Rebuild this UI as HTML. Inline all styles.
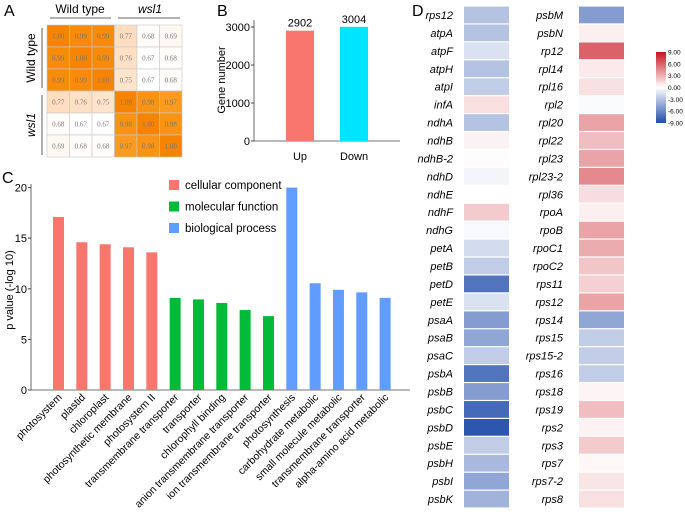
<!DOCTYPE html>
<html><head><meta charset="utf-8"><style>
body{margin:0;background:#fff;}
svg{display:block;font-family:"Liberation Sans",Arial,sans-serif;}
</style></head><body>
<svg id="s" width="685" height="514" viewBox="0 0 685 514">
<text x="4" y="16" font-size="16">A</text>
<text x="217" y="16" font-size="16">B</text>
<text x="2" y="183" font-size="16">C</text>
<text x="412" y="16" font-size="16">D</text>
<g id="gA"></g>
<g id="gB"></g>
<g id="gC"></g>
<g id="gD"></g>
</svg>
<script>
const NS="http://www.w3.org/2000/svg";
function mk(p,t,a,txt){const e=document.createElementNS(NS,t);for(const k in a)e.setAttribute(k,a[k]);if(txt!==undefined)e.textContent=txt;p.appendChild(e);return e;}

// ---- Panel A data
const corrRows=[[1.00,0.99,0.99,0.77,0.68,0.69],[0.99,1.00,0.99,0.76,0.67,0.68],[0.99,0.99,1.00,0.75,0.67,0.68],[0.77,0.76,0.75,1.00,0.98,0.97],[0.68,0.67,0.67,0.98,1.00,0.98],[0.69,0.68,0.68,0.97,0.98,1.00]];
// ---- Panel B data
const bCats=["Up","Down"];
const bVals=[2902,3004];
const bTicks=[0,1000,2000,3000];
// ---- Panel C data
const cCats=["photosystem","plastid","chloroplast","photosynthetic membrane","photosystem II","transmembrane transporter","transporter","chlorophyll binding","anion transmembrane transporter","ion transmembrane transporter","photosynthesis","carbohydrate metabolic","small molecule metabolic","transmembrane transporter","alpha-amino acid metabolic"];
const cVals=[17.1,14.6,14.4,14.1,13.6,9.1,8.95,8.6,7.9,7.3,20.0,10.55,9.9,9.65,9.1];
const cGroups=[0,0,0,0,0,1,1,1,1,1,2,2,2,2,2];
const cGroupNames=["cellular component","molecular function","biological process"];
const cTicks=[0,5,10,15,20];
// ---- Panel D data
const dGenesL=["rps12","atpA","atpF","atpH","atpI","infA","ndhA","ndhB","ndhB-2","ndhD","ndhE","ndhF","ndhG","petA","petB","petD","petE","psaA","psaB","psaC","psbA","psbB","psbC","psbD","psbE","psbH","psbI","psbK"];
const dValsL=[-3,-3,-1.5,-3,-2.5,1.2,-3,0.5,0.1,-0.5,0,2,-0.3,-1.8,-2.5,-7,-1.5,-5,-4.5,-2.5,-7,-5,-7.5,-8.5,-2.5,-3.5,-4.5,-3.8];
const dGenesR=["psbM","psbN","rp12","rpl14","rpl16","rpl2","rpl20","rpl22","rpl23","rpl23-2","rpl36","rpoA","rpoB","rpoC1","rpoC2","rps11","rps12","rps14","rps15","rps15-2","rps16","rps18","rps19","rps2","rps3","rps7","rps7-2","rps8"];
const dValsR=[-5,0.6,6,0.8,1.2,-0.2,3.5,2.5,3.5,4.5,1.3,0.6,3.5,3.2,2.2,1.8,3.5,-4.5,-2.5,-2.5,-2.5,0.4,2.5,0.5,2,0.3,1,1.2];
const dTicks=[9,6,3,0,-3,-6,-9];

// ===== Panel A
const gA=document.getElementById('gA');
function corrColor(v){
  if(v>=0.9){const t=(1-v)/0.03;return `rgb(${Math.round(247+t*3)},${Math.round(132+t*22)},${Math.round(0+t*30)})`;}
  const t=Math.max(0,Math.min(1,(v-0.67)/0.1));
  return `rgb(255,${Math.round(255-t*34)},${Math.round(255-t*64)})`;
}
const ax0=47,ay0=25,cw=22.5,ch=22;
corrRows.forEach((row,i)=>row.forEach((v,j)=>{
  const r=mk(gA,'rect',{x:ax0+j*cw,y:ay0+i*ch,width:cw,height:ch,fill:corrColor(v),stroke:'#c8c8c8','stroke-width':0.6});
  
  
  const t=mk(gA,'text',{x:ax0+j*cw+cw/2,y:ay0+i*ch+ch/2+2.5,'font-size':7,'text-anchor':'middle',fill:'#777','font-family':'"Liberation Serif",serif'},v.toFixed(2));
  
  
}));
[[80,"Wild type",50,111,"normal"],[150,"wsl1",118,180,"italic"]].forEach(d=>{
  const t=mk(gA,'text',{x:d[0],y:13,'font-size':12,'text-anchor':'middle','font-style':d[4]},d[1]);
  
  
  const l=mk(gA,'line',{x1:d[2],x2:d[3],y1:18,y2:18,stroke:'#333','stroke-width':0.8});
  
  
  const yc=d[4]=="normal"?58:125;
  const t2=mk(gA,'text',{x:0,y:0,'font-size':12,'text-anchor':'middle','font-style':d[4],transform:`translate(35,${yc}) rotate(-90)`},d[1]);
  
  
  const l2=mk(gA,'line',{x1:42,x2:42,y1:yc-30,y2:yc+30,stroke:'#333','stroke-width':0.8});
  
  
});

// ===== Panel B
const gB=document.getElementById('gB');
const bX0=254,bY0=141,bScale=38/1000;
const by=v=>bY0-v*bScale;
mk(gB,'line',{x1:bX0,x2:bX0,y1:20,y2:bY0,stroke:'#444','stroke-width':0.8});
mk(gB,'line',{x1:bX0,x2:400,y1:bY0,y2:bY0,stroke:'#444','stroke-width':0.8});
bTicks.forEach(v=>{
  const l=mk(gB,'line',{x1:bX0-3,x2:bX0,y1:by(v),y2:by(v),stroke:'#444'});
  
  
  const t=mk(gB,'text',{x:bX0-4,y:by(v)+4,'font-size':11,'text-anchor':'end'},v);
  
  
});
const bCols=["#f8766d","#00e5ff"];
bVals.forEach((v,i)=>{
  const cx=300+i*54;
  const r=mk(gB,'rect',{x:cx-14,y:by(v),width:28,height:bY0-by(v),fill:bCols[i]});
  
  
  const t=mk(gB,'text',{x:cx,y:by(v)-4,'font-size':11,'text-anchor':'middle'},v);
  
  
  const t2=mk(gB,'text',{x:cx,y:160,'font-size':11,'text-anchor':'middle'},bCats[i]);
  
  
});
const byt=mk(gB,'text',{x:0,y:0,'font-size':11,'text-anchor':'middle',transform:'translate(225,80) rotate(-90)'},"Gene number");



// ===== Panel C
const gC=document.getElementById('gC');
const cX0=31,cY0=390,cS=50.6/5;
const cy=v=>cY0-v*cS;
const cColors=["#f8766d","#00ba38","#619cff"];
mk(gC,'line',{x1:cX0,x2:cX0,y1:184,y2:cY0,stroke:'#444','stroke-width':0.8});
mk(gC,'line',{x1:cX0,x2:410,y1:cY0,y2:cY0,stroke:'#444','stroke-width':0.8});
cTicks.forEach(v=>{
  const l=mk(gC,'line',{x1:cX0-3,x2:cX0,y1:cy(v),y2:cy(v),stroke:'#444'});
  
  
  const t=mk(gC,'text',{x:cX0-4,y:cy(v)+4,'font-size':11,'text-anchor':'end'},v);
  
  
});
cVals.forEach((v,i)=>{
  const cx=58.5+i*23.33;
  const r=mk(gC,'rect',{x:cx-5.5,y:cy(v),width:11,height:cY0-cy(v),fill:cColors[cGroups[i]]});
  
  
  const t=mk(gC,'text',{x:0,y:0,'font-size':10.5,'text-anchor':'end',transform:`translate(${cx+4},${cY0+8}) rotate(-45)`},cCats[i]);
  
  
});
const cyt=mk(gC,'text',{x:0,y:0,'font-size':11,'text-anchor':'middle',transform:'translate(13,290) rotate(-90)'},"p value (-log 10)");


cGroupNames.forEach((n,i)=>{
  const y=185+i*21.5;
  const r=mk(gC,'rect',{x:169,y:y-5,width:10,height:10,fill:cColors[i]});
  
  
  const t=mk(gC,'text',{x:185,y:y+4,'font-size':11.5},n);
  
  
});

// ===== Panel D
const gD=document.getElementById('gD');
function heat(v){
  const t=Math.min(1,Math.abs(v)/9);
  if(v>=0) return `rgb(${Math.round(255-55*t)},${Math.round(255-235*t)},${Math.round(255-225*t)})`;
  return `rgb(${Math.round(255-222*t)},${Math.round(255-179*t)},${Math.round(255-85*t)})`;
}
const dY0=6,dRH=17.93;
[[dGenesL,dValsL,464,453],[dGenesR,dValsR,579,563]].forEach(col=>{
  col[1].forEach((v,i)=>{
    const r=mk(gD,'rect',{x:col[2],y:dY0+i*dRH+0.6,width:45,height:dRH-1.2,fill:heat(v)});
    
    
    const t=mk(gD,'text',{x:col[3],y:dY0+i*dRH+dRH/2+4,'font-size':11,'font-style':'italic','text-anchor':'end'},col[0][i]);
    
    
  });
});
const defs=mk(gD,'defs',{});
const lg=mk(defs,'linearGradient',{id:'cb',x1:0,y1:0,x2:0,y2:1});
mk(lg,'stop',{offset:'0',  'stop-color':heat(9)});
mk(lg,'stop',{offset:'0.5','stop-color':heat(0)});
mk(lg,'stop',{offset:'1',  'stop-color':heat(-9)});
const cb=mk(gD,'rect',{x:656,y:52,width:10,height:71,fill:'url(#cb)'});


dTicks.forEach((v,i)=>{
  const y=52+(9-v)/18*71;
  const t=mk(gD,'text',{x:668,y:y+2.5,'font-size':6.5},v.toFixed(2));
  
  
});
</script>
</body></html>
